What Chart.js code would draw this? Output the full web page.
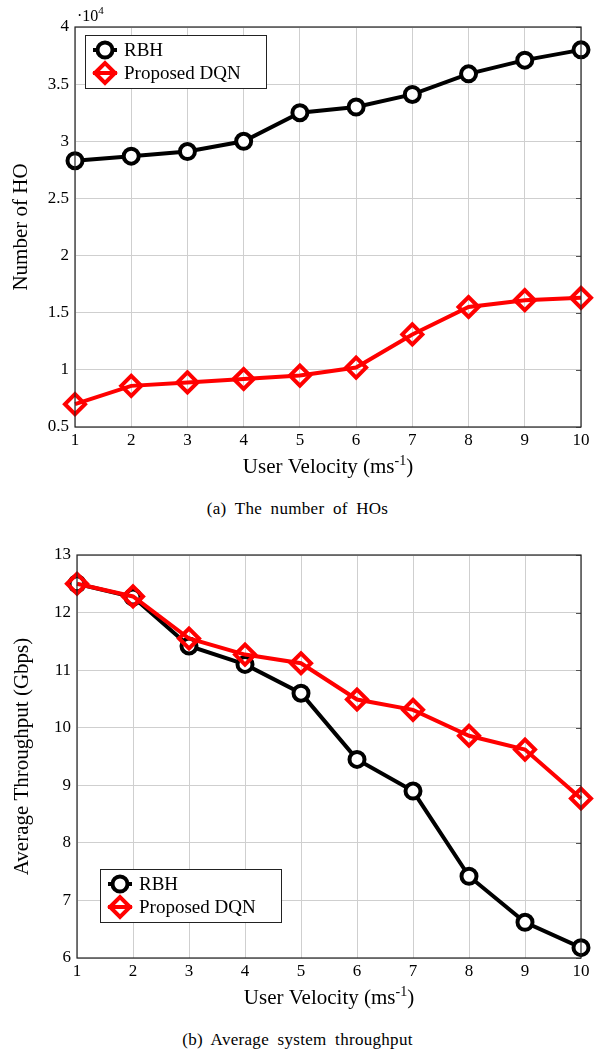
<!DOCTYPE html>
<html>
<head>
<meta charset="utf-8">
<script src="https://cdn.jsdelivr.net/npm/chart.js@4.4.0/dist/chart.umd.min.js"></script>
<style>
body { margin: 0; background: #fff; font-family: 'Liberation Serif', serif; }
.fig { position: absolute; left: 0; width: 595px; }
.caption { position: absolute; left: 0; width: 595px; text-align: center; font-size: 17px; word-spacing: 4px; letter-spacing: 0.3px; color: #000; }
</style>
</head>
<body>
<div class="fig" style="top:0"><canvas id="hoChart" width="595" height="480"></canvas></div>
<div class="caption" style="top:499px">(a) The number of HOs</div>
<div class="fig" style="top:530px"><canvas id="tputChart" width="595" height="480"></canvas></div>
<div class="caption" style="top:1030px">(b) Average system throughput</div>
<script>
// data
var velocity = [1, 2, 3, 4, 5, 6, 7, 8, 9, 10];
var hoRBH = [2.83, 2.87, 2.91, 3.00, 3.25, 3.30, 3.41, 3.59, 3.71, 3.80];   // x10^4
var hoDQN = [0.70, 0.86, 0.89, 0.92, 0.95, 1.02, 1.31, 1.55, 1.61, 1.63];   // x10^4
var tputRBH = [12.5, 12.27, 11.42, 11.1, 10.6, 9.45, 8.9, 7.42, 6.62, 6.18];
var tputDQN = [12.5, 12.28, 11.55, 11.27, 11.12, 10.49, 10.31, 9.86, 9.62, 8.77];
var seriesNames = ["RBH", "Proposed DQN"];

var serif = "'Liberation Serif', 'Times New Roman', serif";

function points(ys) {
    return velocity.map(function (v, i) { return { x: v, y: ys[i] }; });
}

function makeDatasets(rbh, dqn) {
    return [
        {
            label: seriesNames[0], data: points(rbh), order: 1, clip: false,
            borderColor: "#000", borderWidth: 4,
            pointStyle: "circle", pointRadius: 7.5, pointBorderWidth: 4,
            pointBorderColor: "#000", pointBackgroundColor: "#fff"
        },
        {
            label: seriesNames[1], data: points(dqn), order: 0, clip: false,
            borderColor: "#ff0000", borderWidth: 4,
            pointStyle: "rectRot", pointRadius: 10, pointBorderWidth: 4,
            pointBorderColor: "#ff0000", pointBackgroundColor: "rgba(0,0,0,0)"
        }
    ];
}

// frame, axis titles, exponent label and the boxed legend
var framePlugin = {
    id: "frame",
    afterDraw: function (chart, args, opts) {
        var ctx = chart.ctx, a = chart.chartArea;
        ctx.save();
        // right-side tick marks
        ctx.strokeStyle = "#555";
        ctx.lineWidth = 1;
        chart.scales.y.ticks.forEach(function (t) {
            var py = Math.round(chart.scales.y.getPixelForValue(t.value)) + 0.5;
            ctx.beginPath(); ctx.moveTo(a.right - 5, py); ctx.lineTo(a.right, py); ctx.stroke();
        });
        ctx.strokeStyle = "#222";
        ctx.lineWidth = 1.2;
        ctx.strokeRect(a.left, a.top, a.right - a.left, a.bottom - a.top);

        ctx.fillStyle = "#000";
        // x title with superscript
        var main = "User Velocity (ms", sup = "-1", end = ")";
        ctx.font = "21px " + serif;
        var w1 = ctx.measureText(main).width, w3 = ctx.measureText(end).width;
        ctx.font = "14px " + serif;
        var w2 = ctx.measureText(sup).width;
        var cx = (a.left + a.right) / 2, x0 = cx - (w1 + w2 + w3) / 2, ty = a.bottom + 46;
        ctx.textBaseline = "alphabetic";
        ctx.textAlign = "left";
        ctx.font = "21px " + serif;
        ctx.fillText(main, x0, ty);
        ctx.font = "14px " + serif;
        ctx.fillText(sup, x0 + w1, ty - 8);
        ctx.font = "21px " + serif;
        ctx.fillText(end, x0 + w1 + w2, ty);

        // y title
        ctx.save();
        ctx.translate(opts.yTitleX, (a.top + a.bottom) / 2);
        ctx.rotate(-Math.PI / 2);
        ctx.textAlign = "center";
        ctx.textBaseline = "middle";
        ctx.font = "21px " + serif;
        ctx.fillText(opts.yTitle, 0, 0);
        ctx.restore();

        // exponent
        if (opts.exponent) {
            ctx.textAlign = "left";
            ctx.font = "16px " + serif;
            ctx.fillText("\u00b710", a.left + 2, a.top - 6);
            var ew = ctx.measureText("\u00b710").width;
            ctx.font = "11px " + serif;
            ctx.fillText(opts.exponent, a.left + 2 + ew, a.top - 13);
        }

        // legend
        var lx = a.left + opts.legendX;
        var ly = opts.legendFromBottom ? a.bottom - opts.legendY - 53 : a.top + opts.legendY;
        ctx.fillStyle = "#fff";
        ctx.fillRect(lx, ly, 181, 53);
        ctx.strokeStyle = "#222";
        ctx.lineWidth = 1;
        ctx.strokeRect(lx + 0.5, ly + 0.5, 181, 53);
        chart.data.datasets.forEach(function (ds, i) {
            var ry = ly + 15 + i * 23;
            ctx.strokeStyle = ds.borderColor;
            ctx.lineWidth = ds.borderWidth;
            ctx.beginPath(); ctx.moveTo(lx + 8, ry); ctx.lineTo(lx + 32, ry); ctx.stroke();
            ctx.fillStyle = ds.pointBackgroundColor;
            ctx.lineWidth = ds.pointBorderWidth;
            Chart.helpers.drawPoint(ctx, { pointStyle: ds.pointStyle, radius: ds.pointRadius, borderWidth: ds.pointBorderWidth, rotation: 0 }, lx + 20, ry);
            ctx.fillStyle = "#000";
            ctx.textAlign = "left";
            ctx.textBaseline = "middle";
            ctx.font = "19px " + serif;
            ctx.fillText(ds.label, lx + 39, ry + 1);
        });
        ctx.restore();
    }
};

function plainTick(v) { return String(v); }

function makeOptions(cfg) {
    return {
        responsive: false,
        animation: false,
        layout: { padding: { top: cfg.top, right: cfg.right, left: 0, bottom: 0 } },
        plugins: {
            legend: { display: false },
            tooltip: { enabled: false },
            frame: cfg.frame
        },
        scales: {
            x: {
                type: "linear", min: 1, max: 10,
                ticks: { stepSize: 1, color: "#000", padding: 3, font: { family: serif, size: 17 }, callback: plainTick },
                grid: { color: "#cfcfcf", drawTicks: false },
                border: { display: false },
                afterFit: function (s) { s.height = cfg.xHeight; }
            },
            y: {
                min: cfg.ymin, max: cfg.ymax,
                ticks: { stepSize: cfg.step, color: "#000", padding: 6, font: { family: serif, size: 17 }, callback: plainTick },
                grid: { color: "#cfcfcf", drawTicks: false },
                border: { display: false },
                afterFit: function (s) { s.width = cfg.left; }
            }
        }
    };
}

new Chart(document.getElementById("hoChart"), {
    type: "line",
    data: { datasets: makeDatasets(hoRBH, hoDQN) },
    options: makeOptions({
        top: 27, right: 12, left: 75, xHeight: 53, ymin: 0.5, ymax: 4, step: 0.5,
        frame: { yTitle: "Number of HO", yTitleX: 21, exponent: "4", legendX: 10, legendY: 8, legendFromBottom: false }
    }),
    plugins: [framePlugin]
});

new Chart(document.getElementById("tputChart"), {
    type: "line",
    data: { datasets: makeDatasets(tputRBH, tputDQN) },
    options: makeOptions({
        top: 25, right: 7, left: 77, xHeight: 52, ymin: 6, ymax: 13, step: 1,
        frame: { yTitle: "Average Throughput (Gbps)", yTitleX: 22, exponent: null, legendX: 23, legendY: 36, legendFromBottom: true }
    }),
    plugins: [framePlugin]
});
</script>
</body>
</html>
